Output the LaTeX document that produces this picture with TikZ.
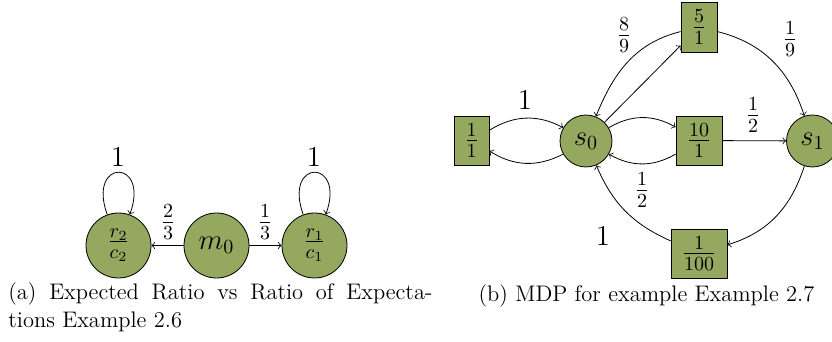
\documentclass[tikz,border=0pt]{standalone}
\usetikzlibrary{arrows}
\definecolor{nodegreen}{RGB}{148,168,96}
\begin{document}
\begin{tikzpicture}[x=0.5pt,y=-0.5pt,
  st/.style={circle,draw,fill=nodegreen,inner sep=0pt,font=\Large},
  act/.style={rectangle,draw,fill=nodegreen,inner sep=0pt,minimum height=24.5pt,font=\Large},
  lab/.style={font=\Large,inner sep=0pt},
  captext/.style={inner sep=0pt,font=\fontsize{11.25pt}{14pt}\selectfont},
  arr/.style={->}]
\useasboundingbox (0,0) rectangle (832,342);
% (a)
\node[st,minimum size=32.5pt] (r2) at (118.5,245.5) {$\frac{r_2}{c_2}$};
\node[st,minimum size=32.5pt] (m0) at (216.5,245.5) {$m_0$};
\node[st,minimum size=32.5pt] (r1) at (314.5,245.5) {$\frac{r_1}{c_1}$};
\draw[arr] (m0) -- (r2);
\draw[arr] (m0) -- (r1);
\draw[arr] (r2) to[out=110,in=70,distance=30pt] (r2);
\draw[arr] (r1) to[out=110,in=70,distance=30pt] (r1);
\node[lab] (l1) at (118,157) {1};
\node[lab] (l2) at (314,157) {1};
\node[lab] (l3) at (168,222) {$\frac{2}{3}$};
\node[lab] (l4) at (265,222) {$\frac{1}{3}$};
\node[captext,anchor=north west,text width=212pt,align=justify] (capa) at (8,282)
  {(a) Expected Ratio vs Ratio of Expecta-\linebreak tions Example 2.6};
% (b)
\node[act,minimum width=17.5pt] (a11) at (471.5,140.5) {$\frac{1}{1}$};
\node[st,minimum size=26pt] (s0) at (586,141) {$s_0$};
\node[act,minimum width=23pt] (a10) at (699,140.5) {$\frac{10}{1}$};
\node[st,minimum size=26pt] (s1) at (812.5,141) {$s_1$};
\node[act,minimum width=18pt,minimum height=25pt] (a5) at (699,27) {$\frac{5}{1}$};
\node[act,minimum width=28pt] (a100) at (699,253.5) {$\frac{1}{100}$};
\draw[arr] (a11) to[bend left=30] (s0);
\draw[arr] (s0) to[bend left=30] (a11);
\draw[arr] (s0) to[bend left=30] (a10);
\draw[arr] (a10) to[bend left=30] (s0);
\draw[arr] (s0) -- (a5);
\draw[arr] (a5) to[out=194,in=68] (s0);
\draw[arr] (a5) to[out=-14,in=108] (s1);
\draw[arr] (a10) -- (s1);
\draw[arr] (s1) to[out=-108,in=17] (a100);
\draw[arr] (a100) to[out=156,in=-67] (s0);
\node[lab] (b1) at (525,100) {1};
\node[lab] (b2) at (624,35) {$\frac{8}{9}$};
\node[lab] (b3) at (790,39) {$\frac{1}{9}$};
\node[lab] (b4) at (753,115) {$\frac{1}{2}$};
\node[lab] (b5) at (642,190) {$\frac{1}{2}$};
\node[lab] (b6) at (603,236) {1};
\node[captext] (capb) at (646.5,296) {(b) MDP for example Example 2.7};
\end{tikzpicture}
\end{document}
